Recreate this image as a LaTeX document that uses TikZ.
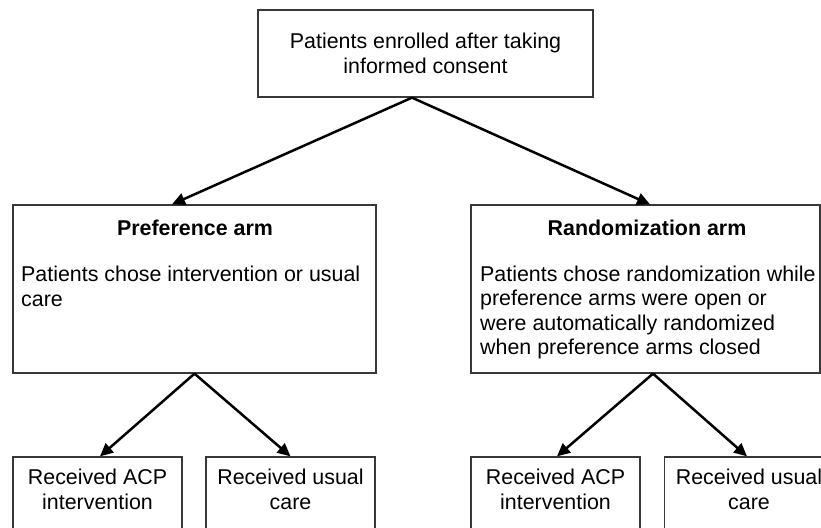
\documentclass[tikz,border=0pt]{standalone}
\usepackage{fontspec}
\setmainfont{Liberation Sans}
\usepackage{tikz}
\usetikzlibrary{arrows.meta, positioning}

\begin{document}
\begin{tikzpicture}[
  x=1pt, y=-1pt,
  box/.style={draw=black!78, line width=1.3pt, inner sep=0pt},
  txt/.style={inner sep=0pt, font=\fontsize{21.4}{24.5}\selectfont},
  arr/.style={-{Triangle[length=13pt, width=12pt]}, line width=2.5pt, black},
]
\useasboundingbox (0,0) rectangle (821,527);
\clip (0,0) rectangle (821,527);

\node[box, txt, align=center, minimum width=335pt, minimum height=87pt] (enrol) at (425.5,53.5) {Patients enrolled after taking\\informed consent};

\node[box, minimum width=363pt, minimum height=168pt] (pref) at (194.5,289) {};
\node[txt, anchor=base, font=\fontsize{21.4}{24.5}\selectfont\bfseries] (preftitle) at (195,235) {Preference arm};
\node[txt, anchor=north west, align=left] (prefbody) at (21,266) {Patients chose intervention or usual\\care};

\node[box, minimum width=349pt, minimum height=168pt] (rand) at (645.5,289) {};
\node[txt, anchor=base, font=\fontsize{21.4}{24.5}\selectfont\bfseries] (randtitle) at (647,235) {Randomization arm};
\node[txt, anchor=north west, align=left] (randbody) at (480,265.5) {Patients chose randomization while\\preference arms were open or\\were automatically randomized\\when preference arms closed};

\node[box, minimum width=169pt, minimum height=100pt] (prefacp) at (97.5,507) {};
\node[box, minimum width=169pt, minimum height=100pt] (prefusual) at (290.5,507) {};
\node[box, minimum width=169pt, minimum height=100pt] (randacp) at (555.5,507) {};
\node[box, minimum width=169pt, minimum height=100pt] (randusual) at (749,507) {};

\node[txt, anchor=north, align=center] at (prefacp.north) [yshift=-12.5pt] {Received ACP\\intervention};
\node[txt, anchor=north, align=center] at (prefusual.north) [yshift=-12.5pt] {Received usual\\care};
\node[txt, anchor=north, align=center] at (randacp.north) [yshift=-12.5pt] {Received ACP\\intervention};
\node[txt, anchor=north, align=center] at (randusual.north) [yshift=-12.5pt] {Received usual\\care};

\draw[arr] ([xshift=-13.5pt]enrol.south) -- ([xshift=-22.5pt]pref.north);
\draw[arr] ([xshift=-13.5pt]enrol.south) -- ([xshift=4.5pt]rand.north);

\draw[arr] (pref.south) -- ([xshift=2.5pt]prefacp.north);
\draw[arr] (pref.south) -- (prefusual.north);

\draw[arr] ([xshift=7.5pt]rand.south) -- ([xshift=1.5pt]randacp.north);
\draw[arr] ([xshift=7.5pt]rand.south) -- ([xshift=-2pt]randusual.north);
\end{tikzpicture}
\end{document}
